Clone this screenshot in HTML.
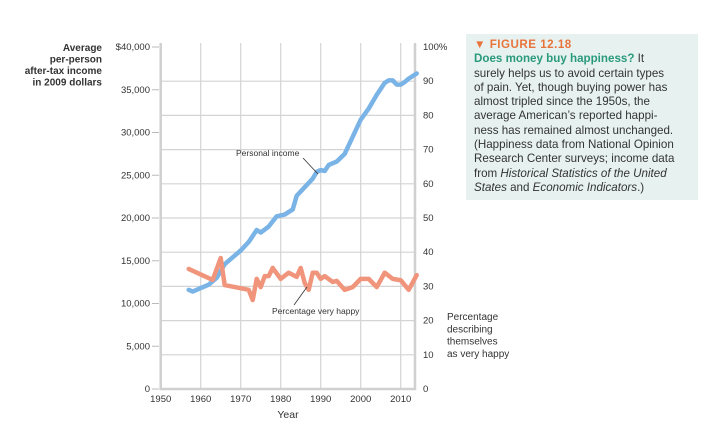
<!DOCTYPE html>
<html><head><meta charset="utf-8"><style>
body{margin:0;background:#fff;width:712px;height:430px;overflow:hidden;font-family:"Liberation Sans",sans-serif}
svg text{font-family:"Liberation Sans",sans-serif}
#cap{position:absolute;left:466px;top:34px;width:224px;height:162px;background:#e7f1f0;padding:4px 0 0 8px;font-size:11.6px;line-height:14.3px;color:#333;white-space:nowrap}
</style></head><body>
<svg id="chart" width="712" height="430" style="position:absolute;left:0;top:0">
<g id="grid"></g><g id="axes"></g><g id="series"></g>
<text x="102" y="51" text-anchor="end" font-size="10" font-weight="bold" fill="#333"><tspan x="102">Average</tspan><tspan x="102" dy="11.5">per-person</tspan><tspan x="102" dy="11.5">after-tax income</tspan><tspan x="102" dy="11.5">in 2009 dollars</tspan></text>
<text x="447" y="320" font-size="10" fill="#333"><tspan x="447">Percentage</tspan><tspan x="447" dy="12.3">describing</tspan><tspan x="447" dy="12.3">themselves</tspan><tspan x="447" dy="12.3">as very happy</tspan></text>
<text x="288" y="418" text-anchor="middle" font-size="10.5" fill="#333">Year</text>
<text x="236" y="156" font-size="8.5" fill="#333">Personal income</text>
<line x1="303" y1="158" x2="318" y2="174" stroke="#333" stroke-width="0.8"/>
<text x="272" y="314" font-size="8.5" fill="#333">Percentage very happy</text>
<line x1="294" y1="305" x2="307" y2="287" stroke="#333" stroke-width="0.8"/>
</svg>
<div id="cap">
<div style="color:#e8743b;font-weight:bold;letter-spacing:0.5px">▼ FIGURE 12.18</div>
<div><b style="color:#2a9a7c">Does money buy happiness?</b> It<br>surely helps us to avoid certain types<br>of pain. Yet, though buying power has<br>almost tripled since the 1950s, the<br>average American’s reported happi-<br>ness has remained almost unchanged.<br>(Happiness data from National Opinion<br>Research Center surveys; income data<br>from <i>Historical Statistics of the United</i><br><i>States</i> and <i>Economic Indicators</i>.)</div>
</div>
<script>
const incomeYears=[1957,1958,1960,1962,1964,1966,1968,1970,1972,1974,1975,1977,1979,1980,1981,1983,1984,1986,1988,1989,1990,1991,1992,1994,1996,1998,2000,2002,2004,2006,2007,2008,2009,2010,2011,2012,2014];
const incomeValues=[11.6,11.4,11.8,12.2,13,14.6,15.4,16.2,17.2,18.6,18.3,19,20.2,20.3,20.4,21,22.6,23.6,24.6,25.4,25.6,25.5,26.2,26.6,27.5,29.5,31.5,32.8,34.4,35.8,36.1,36.1,35.6,35.6,35.9,36.3,36.9];
const happyYears=[1957,1963,1965,1966,1972,1973,1974,1975,1976,1977,1978,1980,1982,1984,1985,1986,1987,1988,1989,1990,1991,1993,1994,1996,1998,2000,2002,2004,2006,2008,2010,2012,2014];
const happyValues=[35.1,31.9,38.3,30.4,29,26,32.2,29.8,33,33,35.4,32.2,34,32.8,35.4,31,29,34,34,32.2,33,31.3,31.6,29,29.8,32.2,32.2,29.8,34,32.2,31.8,29,33.3];
const xTicks=[1950,1960,1970,1980,1990,2000,2010];
const leftTicks=[0,5000,10000,15000,20000,25000,30000,35000,40000];
const leftLabels=["0","5,000","10,000","15,000","20,000","25,000","30,000","35,000","$40,000"];
const rightTicks=[0,10,20,30,40,50,60,70,80,90,100];
const rightLabels=["0","10","20","30","40","50","60","70","80","90","100%"];
const NS="http://www.w3.org/2000/svg";
const X0=160.7,Y0=389,Ytop=47;
const xs=y=>X0+(y-1950)*4;
const yl=v=>Y0-(v/40000)*(Y0-Ytop);
const yr=v=>Y0-(v/100)*(Y0-Ytop);
function mk(tag,attrs,parent){const e=document.createElementNS(NS,tag);for(const k in attrs)e.setAttribute(k,attrs[k]);parent.appendChild(e);return e;}
const grid=document.getElementById('grid'),axes=document.getElementById('axes'),ser=document.getElementById('series');
xTicks.forEach((t,i)=>{
 if(i>0){const l=mk('line',{x1:xs(t),x2:xs(t),y1:Ytop-4,y2:Y0,stroke:'#d4d4d4','stroke-width':1.2},grid);
 
 }
 const tx=mk('text',{x:xs(t),y:Y0+13,'text-anchor':'middle','font-size':9.5,fill:'#333'},axes);tx.textContent=t;
 
 
});
rightTicks.forEach((t,i)=>{
 if(i>0&&i<10){const l=mk('line',{x1:X0,x2:415,y1:yr(t),y2:yr(t),stroke:'#d4d4d4','stroke-width':1.2},grid);
 
 }
 const tx=mk('text',{x:423,y:yr(t)+3,'font-size':9.5,fill:'#333'},axes);tx.textContent=rightLabels[i];
 
 
});
leftTicks.forEach((t,i)=>{
 const l=mk('line',{x1:152,x2:159,y1:yl(t),y2:yl(t),stroke:'#bbb','stroke-width':1},axes);
 
 
 const tx=mk('text',{x:150,y:yl(t)+3,'text-anchor':'end','font-size':9.5,fill:'#333'},axes);tx.textContent=leftLabels[i];
 
 
});
const frame=mk('path',{d:`M${X0} ${Ytop-4} V${Y0} H415 V${Ytop-4}`,fill:'none',stroke:'#d0d0d0','stroke-width':2.5},axes);


const inc=mk('polyline',{points:incomeYears.map((y,i)=>xs(y)+','+yl(incomeValues[i]*1000)).join(' '),fill:'none',stroke:'#7ab3e6','stroke-width':4.5,'stroke-linejoin':'round','stroke-linecap':'round'},ser);


const hap=mk('polyline',{points:happyYears.map((y,i)=>xs(y)+','+yr(happyValues[i])).join(' '),fill:'none',stroke:'#f0957c','stroke-width':4.5,'stroke-linejoin':'round','stroke-linecap':'round'},ser);


</script>
</body></html>
